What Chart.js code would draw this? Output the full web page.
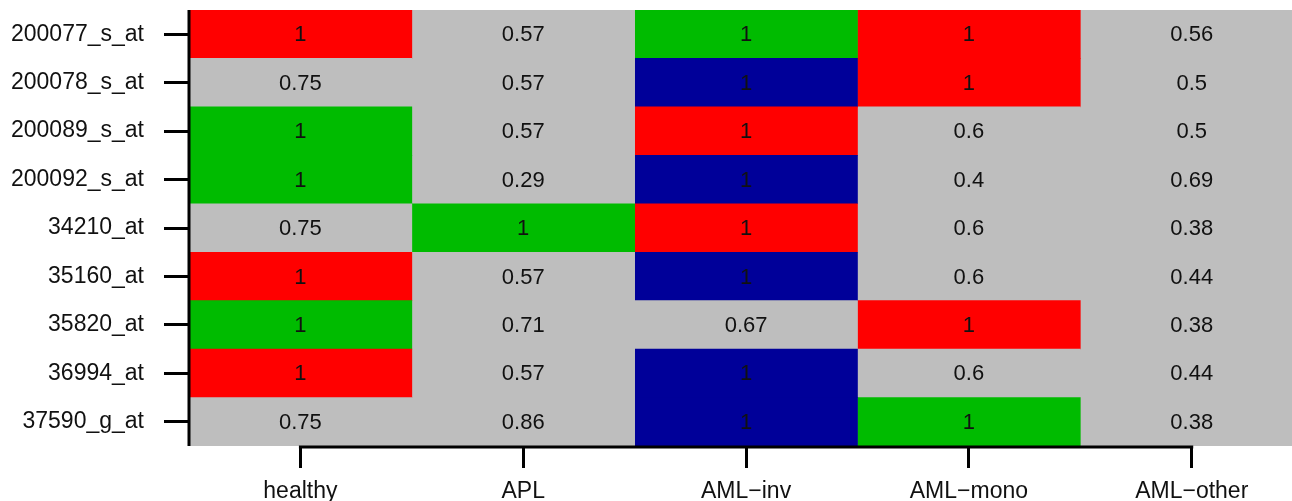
<!DOCTYPE html>
<html>
<head>
<meta charset="utf-8">
<script src="https://cdn.jsdelivr.net/npm/chart.js@4"></script>
<style>
  html, body { margin: 0; padding: 0; background: #fff; overflow: hidden; }
  canvas { display: block; }
</style>
</head>
<body>
<canvas id="heat" width="1292" height="501"></canvas>
<script>
// rows (top to bottom) and columns (left to right)
const genes = ['200077_s_at', '200078_s_at', '200089_s_at', '200092_s_at', '34210_at',
               '35160_at', '35820_at', '36994_at', '37590_g_at'];
const groups = ['healthy', 'APL', 'AML\u2212inv', 'AML\u2212mono', 'AML\u2212other'];

// cell values, one array per column
const healthyVals  = [1, 0.75, 1, 1, 0.75, 1, 1, 1, 0.75];
const aplVals      = [0.57, 0.57, 0.57, 0.29, 1, 0.57, 0.71, 0.57, 0.86];
const amlInvVals   = [1, 1, 1, 1, 1, 1, 0.67, 1, 1];
const amlMonoVals  = [1, 1, 0.6, 0.4, 0.6, 0.6, 1, 0.6, 1];
const amlOtherVals = [0.56, 0.5, 0.5, 0.69, 0.38, 0.44, 0.38, 0.44, 0.38];

// cell colour codes: R red, G green, B blue, N none (grey)
const healthyCols  = ['R', 'N', 'G', 'G', 'N', 'R', 'G', 'R', 'N'];
const aplCols      = ['N', 'N', 'N', 'N', 'G', 'N', 'N', 'N', 'N'];
const amlInvCols   = ['G', 'B', 'R', 'B', 'R', 'B', 'N', 'B', 'B'];
const amlMonoCols  = ['R', 'R', 'N', 'N', 'N', 'N', 'R', 'N', 'G'];
const amlOtherCols = ['N', 'N', 'N', 'N', 'N', 'N', 'N', 'N', 'N'];

const allVals = [healthyVals, aplVals, amlInvVals, amlMonoVals, amlOtherVals];
const allCols = [healthyCols, aplCols, amlInvCols, amlMonoCols, amlOtherCols];

const palette = { R: '#ff0000', G: '#00bb00', B: '#000099', N: '#bebebe' };
const FONT = "'Liberation Sans', Arial, sans-serif";

// each column is a floating bar [i, i+1] on the x axis
const datasets = groups.map((g, i) => ({
    label: g,
    data: genes.map(() => [i, i + 1]),
    backgroundColor: allCols[i].map(c => palette[c]),
    borderWidth: 0,
    barPercentage: 1,
    categoryPercentage: 1,
    grouped: false
}));

// write the value in the middle of every cell
const cellText = {
    id: 'cellText',
    afterDatasetsDraw(chart) {
        const ctx = chart.ctx;
        ctx.save();
        ctx.font = '22px ' + FONT;
        ctx.fillStyle = '#111';
        ctx.textAlign = 'center';
        ctx.textBaseline = 'middle';
        chart.data.datasets.forEach((ds, i) => {
            chart.getDatasetMeta(i).data.forEach((bar, r) => {
                const p = bar.getCenterPoint();
                ctx.fillText(String(allVals[i][r]), p.x, p.y + 1);
            });
        });
        ctx.restore();
    }
};

// R-style axis lines: left one full height, bottom one from first to last tick
const axisLines = {
    id: 'axisLines',
    afterDraw(chart) {
        const x = chart.scales.x;
        const area = chart.chartArea;
        const ctx = chart.ctx;
        ctx.save();
        ctx.strokeStyle = '#000';
        ctx.lineWidth = 3;
        ctx.beginPath();
        ctx.moveTo(area.left, area.top);
        ctx.lineTo(area.left, area.bottom);
        ctx.moveTo(x.getPixelForValue(0.5) - 1.5, x.top + 1);
        ctx.lineTo(x.getPixelForValue(groups.length - 0.5) + 1.5, x.top + 1);
        ctx.stroke();
        ctx.restore();
    }
};

new Chart(document.getElementById('heat'), {
    type: 'bar',
    data: { labels: genes, datasets: datasets },
    options: {
        indexAxis: 'y',
        responsive: false,
        animation: false,
        layout: { autoPadding: false, padding: { top: 10, right: 0, left: 0, bottom: 0 } },
        plugins: { legend: { display: false }, tooltip: { enabled: false }, title: { display: false } },
        scales: {
            x: {
                type: 'linear',
                min: 0,
                max: 4.95,
                afterBuildTicks: (scale) => {
                    scale.ticks = groups.map((g, i) => ({ value: i + 0.5 }));
                },
                afterFit: (scale) => {
                    scale.height = 55;
                    scale.paddingLeft = 0; scale.paddingRight = 0;
                    scale.paddingTop = 0; scale.paddingBottom = 0;
                },
                ticks: {
                    autoSkip: false,
                    maxRotation: 0,
                    padding: 10,
                    color: '#111',
                    font: { size: 23, family: FONT },
                    callback: (v) => groups[Math.round(v - 0.5)]
                },
                grid: {
                    drawOnChartArea: false,
                    drawTicks: true,
                    tickLength: 22,
                    tickWidth: 3,
                    tickColor: '#000'
                },
                border: { display: false }
            },
            y: {
                afterFit: (scale) => {
                    scale.width = 189;
                    scale.paddingLeft = 0; scale.paddingRight = 0;
                    scale.paddingTop = 0; scale.paddingBottom = 0;
                },
                ticks: {
                    padding: 20,
                    color: '#111',
                    font: { size: 23, family: FONT }
                },
                grid: {
                    offset: false,
                    drawOnChartArea: false,
                    drawTicks: true,
                    tickLength: 25,
                    tickWidth: 3,
                    tickColor: '#000'
                },
                border: { display: false }
            }
        }
    },
    plugins: [cellText, axisLines]
});
</script>
</body>
</html>
